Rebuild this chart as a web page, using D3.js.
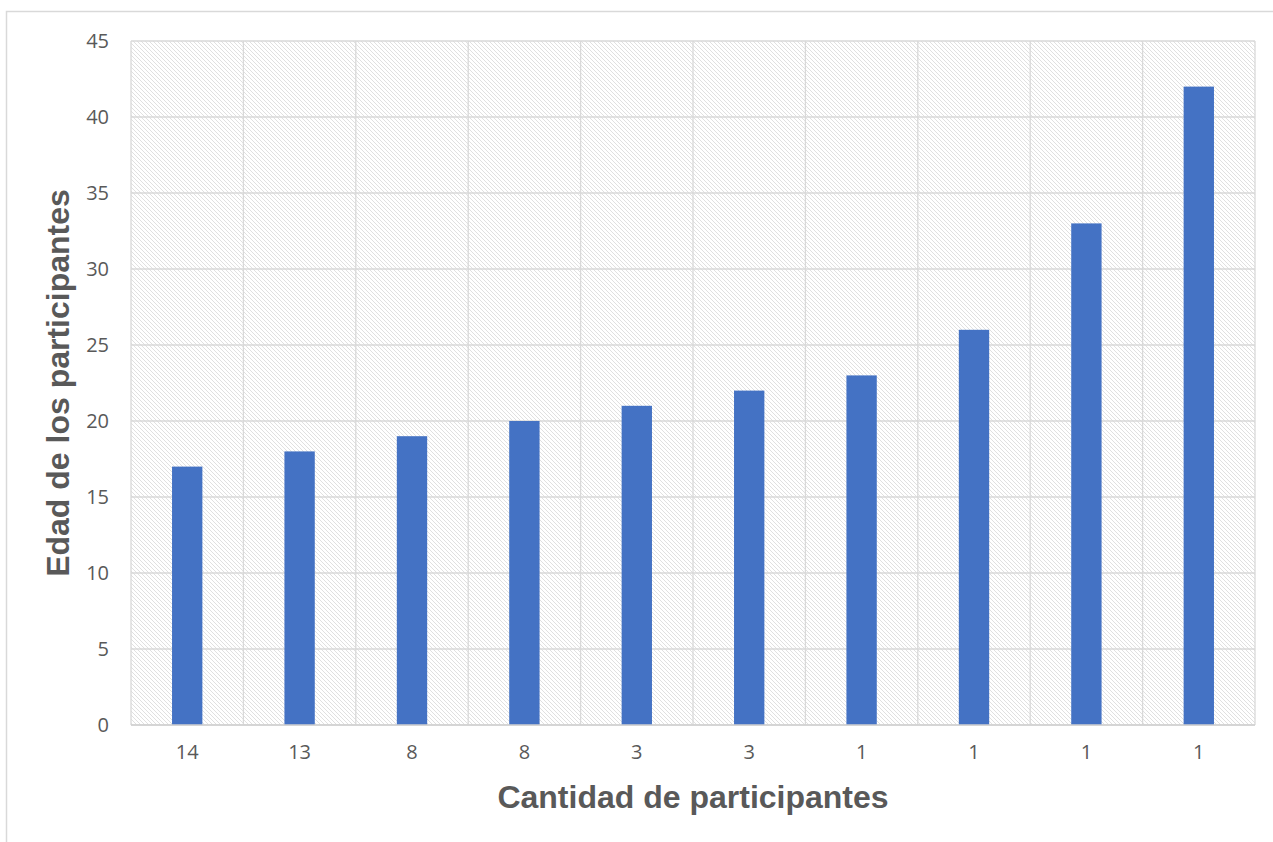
<!DOCTYPE html>
<html>
<head>
<meta charset="utf-8">
<script src="https://cdn.jsdelivr.net/npm/d3@7"></script>
<style>
  html, body { margin: 0; padding: 0; background: #fff; }
  svg { display: block; }
</style>
</head>
<body>
<svg id="chart" width="1273" height="842"></svg>
<script>
// Number of participants per age group (category labels) and the age of each group
const participantCounts = ["14", "13", "8", "8", "3", "3", "1", "1", "1", "1"];
const ages = [17, 18, 19, 20, 21, 22, 23, 26, 33, 42];
const yTicks = [0, 5, 10, 15, 20, 25, 30, 35, 40, 45];
const xTitle = "Cantidad de participantes";
const yTitle = "Edad de los participantes";

const svg = d3.select("#chart");
const W = 1273, H = 842;
const plot = { left: 131, right: 1255, top: 41, bottom: 725 };

// Outer chart frame (only top and left edges fall inside the canvas)
svg.append("rect")
  .attr("x", 6.5).attr("y", 11.5)
  .attr("width", W + 10).attr("height", H + 10)
  .attr("fill", "#fff")
  .attr("stroke", "#d9d9d9").attr("stroke-width", 1.5);

// Diagonal hatch fill for the plot area
const defs = svg.append("defs");
const pat = defs.append("pattern")
  .attr("id", "hatch")
  .attr("patternUnits", "userSpaceOnUse")
  .attr("width", 4).attr("height", 4);
pat.append("rect").attr("width", 4).attr("height", 4).attr("fill", "#fff");
[0, 1, 2, 3].forEach(i => {
  pat.append("rect").attr("x", i).attr("y", i).attr("width", 1).attr("height", 1)
    .attr("fill", "#e0e0e0");
});

const x = d3.scaleBand()
  .domain(d3.range(participantCounts.length))
  .range([plot.left, plot.right])
  .paddingInner(0.73)
  .paddingOuter(0.365);

const xCat = d3.scaleBand()
  .domain(d3.range(participantCounts.length))
  .range([plot.left, plot.right]);

const y = d3.scaleLinear().domain([0, 45]).range([plot.bottom, plot.top]);

svg.append("rect")
  .attr("x", plot.left).attr("y", plot.top)
  .attr("width", plot.right - plot.left).attr("height", plot.bottom - plot.top)
  .attr("fill", "url(#hatch)");

const grid = svg.append("g").attr("stroke", "#d9d9d9").attr("stroke-width", 1.3);
// horizontal gridlines
grid.selectAll("line.h").data(yTicks).join("line")
  .attr("class", "h")
  .attr("x1", plot.left).attr("x2", plot.right)
  .attr("y1", d => y(d)).attr("y2", d => y(d));
// vertical gridlines at category boundaries
const bounds = d3.range(participantCounts.length + 1).map(i =>
  i < participantCounts.length ? xCat(i) : plot.right);
grid.selectAll("line.v").data(bounds).join("line")
  .attr("class", "v")
  .attr("y1", plot.top).attr("y2", plot.bottom)
  .attr("x1", d => d).attr("x2", d => d);

// bars
svg.append("g").selectAll("rect").data(ages).join("rect")
  .attr("x", (d, i) => x(i))
  .attr("width", x.bandwidth())
  .attr("y", d => y(d))
  .attr("height", d => y(0) - y(d))
  .attr("fill", "#4472c4");

// x axis line
svg.append("line")
  .attr("x1", plot.left).attr("x2", plot.right)
  .attr("y1", plot.bottom).attr("y2", plot.bottom)
  .attr("stroke", "#d0d0d0").attr("stroke-width", 1.5);

// tick labels
const yAxis = d3.axisLeft(y).tickValues(yTicks).tickSize(0).tickPadding(22);
const gy = svg.append("g").attr("transform", `translate(${plot.left},0)`).call(yAxis);
gy.select(".domain").remove();
gy.selectAll("text")
  .attr("fill", "#595959")
  .style("font-family", "'Open Sans', sans-serif")
  .style("font-size", "20px");

const xAxis = d3.axisBottom(xCat).tickFormat(i => participantCounts[i]).tickSize(0).tickPadding(20);
const gx = svg.append("g").attr("transform", `translate(0,${plot.bottom})`).call(xAxis);
gx.select(".domain").remove();
gx.selectAll("text")
  .attr("fill", "#595959")
  .style("font-family", "'Open Sans', sans-serif")
  .style("font-size", "20px");

// axis titles
svg.append("text")
  .attr("x", (plot.left + plot.right) / 2)
  .attr("y", 808)
  .attr("text-anchor", "middle")
  .attr("fill", "#595959")
  .style("font-family", "'Liberation Sans', Arial, sans-serif")
  .style("font-weight", "bold")
  .style("font-size", "32px")
  .text(xTitle);

svg.append("text")
  .attr("transform", `translate(69,${(plot.top + plot.bottom) / 2}) rotate(-90)`)
  .attr("text-anchor", "middle")
  .attr("fill", "#595959")
  .style("font-family", "'Liberation Sans', Arial, sans-serif")
  .style("font-weight", "bold")
  .style("font-size", "32px")
  .text(yTitle);
</script>
</body>
</html>
